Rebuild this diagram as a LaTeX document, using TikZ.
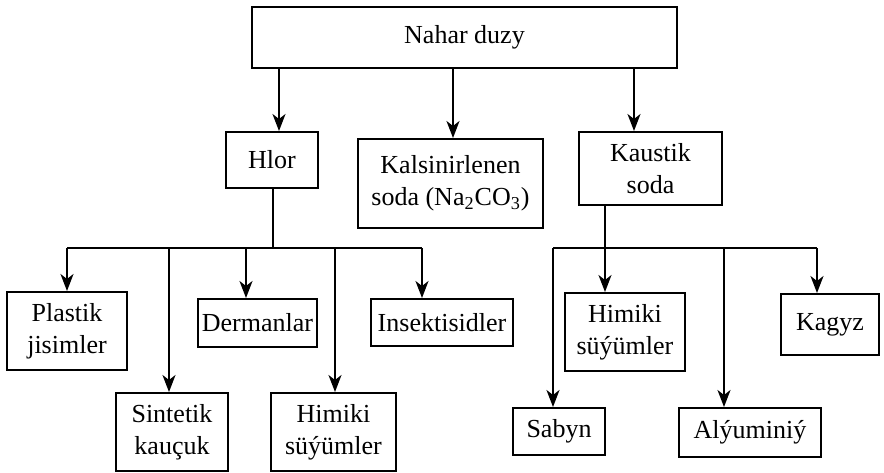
\documentclass[tikz,border=0pt]{standalone}
\usepackage{fontspec}
\setmainfont{Liberation Serif}
\usetikzlibrary{arrows.meta}

\begin{document}
\begin{tikzpicture}[x=0.5pt,y=-0.5pt,
    box/.style={draw,line width=1pt,rectangle,align=center,inner sep=0pt,
      font=\rmfamily\fontsize{13}{16}\selectfont},
    arr/.style={-{Stealth[length=8.5pt,width=6.5pt,inset=2.5pt]},line width=1pt},
    bus/.style={line width=1pt}]
  \useasboundingbox (0,0) rectangle (884,472);

  % The main box and its three products
  \node[box,minimum width=212.5pt,minimum height=30.5pt] (salt) at (464.5,37.5) {Nahar duzy};
  \node[box,minimum width=46pt,minimum height=28pt] (hlor) at (272,160) {Hlor};
  \node[box,minimum width=92.5pt,minimum height=44.5pt] (kals) at (450.5,183.5) {Kalsinirlenen\\soda (Na\textsubscript{2}CO\textsubscript{3})};
  \node[box,minimum width=71.5pt,minimum height=36.5pt] (kaus) at (650.5,168.5) {Kaustik\\soda};

  \coordinate (t1) at (279,68);
  \coordinate (t2) at (453,68);
  \coordinate (t3) at (634,68);
  \draw[arr] (t1) -- (t1 |- hlor.north);
  \draw[arr] (t2) -- (t2 |- kals.north);
  \draw[arr] (t3) -- (t3 |- kaus.north);

  % What is made from chlorine
  \node[box,minimum width=60pt,minimum height=39pt] (plast) at (67,331) {Plastik\\jisimler};
  \node[box,minimum width=56pt,minimum height=39pt] (sint) at (172,432) {Sintetik\\kauçuk};
  \node[box,minimum width=59.5pt,minimum height=24pt] (derm) at (257.5,323) {Dermanlar};
  \node[box,minimum width=62.5pt,minimum height=39pt] (himL) at (333.5,432) {Himiki\\süýümler};
  \node[box,minimum width=71pt,minimum height=23.5pt] (insek) at (442,322.5) {Insektisidler};

  \coordinate (hb) at (273,248);
  \coordinate (l1) at (67,248);
  \coordinate (l2) at (169,248);
  \coordinate (l3) at (246,248);
  \coordinate (l4) at (335,248);
  \coordinate (l5) at (422,248);
  \draw[bus] (hlor.south -| hb) -- (hb);
  \draw[bus] (l1) -- (l5);
  \draw[arr] (l1) -- (l1 |- plast.north);
  \draw[arr] (l2) -- (l2 |- sint.north);
  \draw[arr] (l3) -- (l3 |- derm.north);
  \draw[arr] (l4) -- (l4 |- himL.north);
  \draw[arr] (l5) -- (l5 |- insek.north);

  % What is made from caustic soda
  \node[box,minimum width=46pt,minimum height=23.5pt] (sabyn) at (559,431.5) {Sabyn};
  \node[box,minimum width=60pt,minimum height=39pt] (himR) at (625,332) {Himiki\\süýümler};
  \node[box,minimum width=71pt,minimum height=24.5pt] (alyum) at (750,432.5) {Alýuminiý};
  \node[box,minimum width=49pt,minimum height=30.5pt] (kagyz) at (830,324.5) {Kagyz};

  \coordinate (kb) at (605,248);
  \coordinate (r1) at (553,248);
  \coordinate (r3) at (724,248);
  \coordinate (r4) at (817,248);
  \draw[arr] (kaus.south -| kb) -- (kb |- himR.north);
  \draw[bus] (r1) -- (r4);
  \draw[arr] (r1) -- (r1 |- sabyn.north);
  \draw[arr] (r3) -- (r3 |- alyum.north);
  \draw[arr] (r4) -- (r4 |- kagyz.north);
\end{tikzpicture}
\end{document}
